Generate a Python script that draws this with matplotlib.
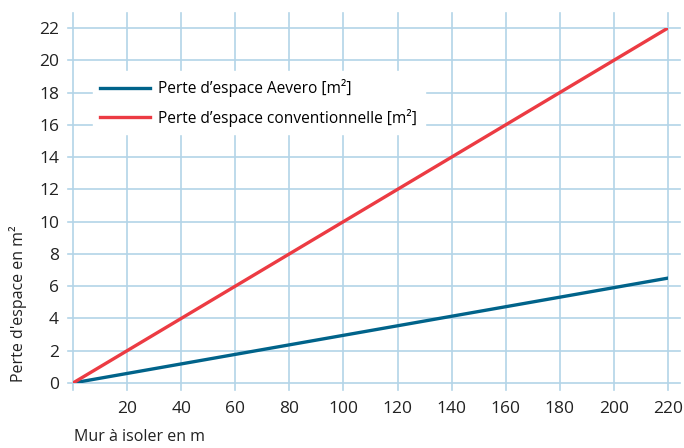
import matplotlib.pyplot as plt

# data
wall_m = [0, 220]
loss_aevero = [0, 6.5]
loss_conv = [0, 22]
xticks = [20, 40, 60, 80, 100, 120, 140, 160, 180, 200, 220]
yticks = [0, 2, 4, 6, 8, 10, 12, 14, 16, 18, 20, 22]

blue = "#00638a"
red = "#ec3b43"
grid_col = "#b3d4e8"

plt.rcParams['font.family'] = ['Open Sans', 'DejaVu Sans']

fig = plt.figure(figsize=(6.84, 4.48), dpi=100)
ax = fig.add_axes([0.1067, 0.1451, 0.8699, 0.7924])

# grid lines that run a bit past the plot area
for x in [0] + xticks:
    ax.axvline(x, ymin=-0.02, ymax=1.042, color=grid_col, lw=1.2, clip_on=False, zorder=1)
for y in yticks:
    ax.axhline(y, xmin=-0.0084, xmax=1.02, color=grid_col, lw=1.2, clip_on=False, zorder=1)

ax.plot(wall_m, loss_aevero, color=blue, lw=2.4, label="Perte d\u2019espace Aevero [m\u00b2]", zorder=3)
ax.plot(wall_m, loss_conv, color=red, lw=2.4, label="Perte d\u2019espace conventionnelle [m\u00b2]", zorder=3)

ax.set_xlim(0, 220)
ax.set_ylim(0, 22)
ax.set_xticks(xticks)
ax.set_yticks(yticks)
ax.tick_params(length=0, labelsize=12.5, colors="#222222")
ax.tick_params(axis='x', pad=13)
ax.tick_params(axis='y', pad=10)
for s in ax.spines.values():
    s.set_visible(False)

leg = ax.legend(loc="upper left", bbox_to_anchor=(0.02, 0.9), frameon=True,
                fontsize=11.2, handlelength=3.2, handletextpad=0.5, borderpad=0.5,
                labelspacing=0.75, fancybox=False)
leg.get_frame().set_edgecolor("white")
leg.get_frame().set_facecolor("white")
leg.get_frame().set_alpha(1)
leg.set_zorder(5)

fig.text(0.027, 0.148, "Perte d'espace en m\u00b2", rotation=90, ha="center", va="bottom",
         fontsize=11.5, color="#222222")
fig.text(0.108, 0.025, "Mur \u00e0 isoler en m", ha="left", va="center",
         fontsize=11.5, color="#222222")

fig.savefig("out.png", dpi=100)
